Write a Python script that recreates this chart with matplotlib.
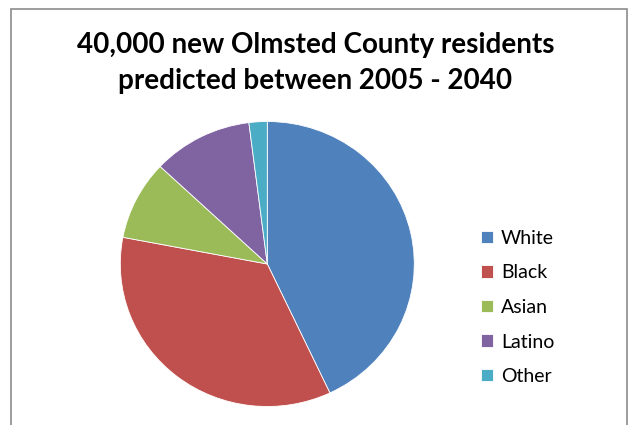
import matplotlib.pyplot as plt
from matplotlib.patches import Rectangle

labels = ["White", "Black", "Asian", "Latino", "Other"]
shares = [43, 35, 9, 11, 2]
colors = ["#4F81BD", "#C0504D", "#9BBB59", "#8064A2", "#4BACC6"]

fig = plt.figure(figsize=(6.31, 4.25), dpi=100)

# chart frame (bottom edge runs off the image)
fig.patches.append(Rectangle((11 / 631, -0.05), (627 - 11) / 631, 1 - 9 / 425 + 0.05,
                             transform=fig.transFigure, fill=False,
                             edgecolor="#8c8c8c", linewidth=1.2))

fig.text(0.5, 1 - 45 / 425, "40,000 new Olmsted County residents",
         ha="center", va="center", fontsize=20, fontweight="bold", family="Lato")
fig.text(0.5, 1 - 81 / 425, "predicted between 2005 - 2040",
         ha="center", va="center", fontsize=20, fontweight="bold", family="Lato")

ax = fig.add_axes([(267.3 - 147) / 631, 18.5 / 425, 294 / 631, 285 / 425])
wedges, _ = ax.pie(shares, colors=colors, startangle=90, counterclock=False,
                   wedgeprops=dict(edgecolor="white", linewidth=0.6))
ax.set_aspect("auto")
ax.set_xlim(-1, 1)
ax.set_ylim(-1, 1)

fig.legend(wedges, labels, loc="upper left",
           bbox_to_anchor=(481 / 631, 1 - 230 / 425),
           frameon=False, prop={"family": "Lato", "size": 14},
           handlelength=0.62, handleheight=0.62, handletextpad=0.4,
           labelspacing=0.9, borderpad=0, borderaxespad=0)

fig.savefig("out.png", dpi=100)
